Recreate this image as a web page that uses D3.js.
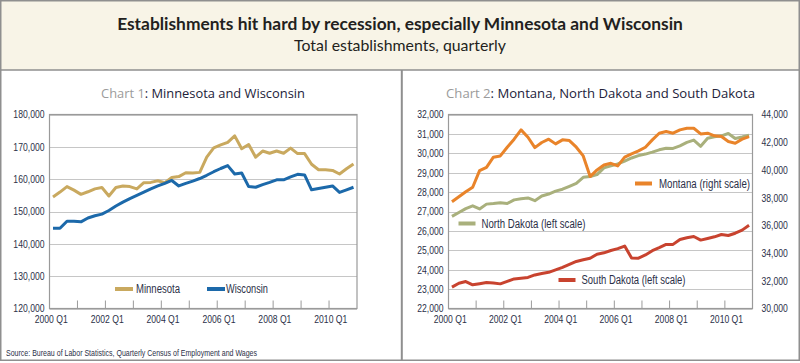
<!DOCTYPE html>
<html><head><meta charset="utf-8">
<script src="https://cdn.jsdelivr.net/npm/d3@7"></script>
<style>html,body{margin:0;padding:0;background:#fff;} svg{display:block;}</style>
</head><body>
<svg id="c" width="800" height="363"></svg>
<script>
// ---------------- DATA ----------------
const years = [2000, 2001, 2002, 2003, 2004, 2005, 2006, 2007, 2008, 2009, 2010];
const quarterNames = ["Q1", "Q2", "Q3", "Q4"];
const categories = years.flatMap(y => quarterNames.map(q => y + " " + q));
const xTickLabels = ["2000 Q1", "2002 Q1", "2004 Q1", "2006 Q1", "2008 Q1", "2010 Q1"];

const minnesota = [154500,156000,157700,156600,155300,156100,157000,157400,154800,157400,
  157900,157700,157000,158900,159000,159500,158900,160500,160800,162000,
  161900,162100,166800,169700,170600,171400,173400,169400,170700,166800,
  168700,168000,168700,168000,169600,167900,167900,164600,162900,162900,
  162700,161600,163200,164700];
const wisconsin = [144800,144800,147000,147000,146800,148000,148700,149200,150300,151700,
  152900,154000,155000,156000,157000,157900,158700,159600,157900,158700,
  159400,160200,161200,162300,163300,164200,161600,161900,157700,157500,
  158300,159000,159800,159800,160700,161500,161300,156700,157100,157500,
  157900,155900,156700,157500];
const montana = [37700,38070,38430,38750,39950,40190,40920,41010,41640,42220,
  42890,42360,41610,41980,42220,41880,42170,42120,41640,41010,
  39520,40000,40360,40480,40290,40920,41160,41370,41640,42170,
  42650,42770,42650,42890,43010,43010,42600,42650,42460,42410,
  42050,41930,42220,42410];
const northDakota = [26750,26950,27150,27290,27130,27380,27410,27450,27410,27600,
  27660,27700,27560,27800,27900,28050,28150,28300,28450,28760,
  28800,28900,29250,29350,29450,29600,29760,29880,29960,30060,
  30180,30260,30250,30380,30560,30680,30360,30780,30850,30900,
  31020,30760,30840,30930];
const southDakota = [23100,23300,23390,23220,23280,23340,23320,23270,23400,23525,
  23560,23600,23730,23800,23864,23990,24120,24270,24424,24510,
  24593,24797,24870,24990,25085,25220,24600,24593,24760,24980,
  25136,25305,25305,25560,25650,25712,25525,25610,25695,25813,
  25763,25880,26040,26288];

const chart1YTicks = [120000,130000,140000,150000,160000,170000,180000];
const chart2LeftTicks = [22000,23000,24000,25000,26000,27000,28000,29000,30000,31000,32000];
const chart2RightTicks = [30000,32000,34000,36000,38000,40000,42000,44000];

// ---------------- STYLE ----------------
const AX = "'Liberation Sans', Arial, sans-serif";
const NARROW = 0.82;
const TXT = "#2b3048";
const BORDER = "#8f8f8f";
const GRID = "#c6c6c6";
const C = { mn: "#c9a95f", wi: "#1c69aa", mt: "#e9842a", nd: "#a9b07c", sd: "#c8432f" };

const svg = d3.select("#c");
svg.append("rect").attr("width", 800).attr("height", 363).attr("fill", "#fff");
svg.append("rect").attr("x", 1).attr("y", 1).attr("width", 798).attr("height", 69).attr("fill", "#f8f4e7");
svg.append("rect").attr("x", 0.75).attr("y", 0.75).attr("width", 798.5).attr("height", 359.5)
  .attr("fill", "none").attr("stroke", BORDER).attr("stroke-width", 1.5);
svg.append("line").attr("x1", 0).attr("x2", 800).attr("y1", 70).attr("y2", 70)
  .attr("stroke", BORDER).attr("stroke-width", 1.5);
svg.append("line").attr("x1", 401.8).attr("x2", 401.8).attr("y1", 70).attr("y2", 360)
  .attr("stroke", BORDER).attr("stroke-width", 2);

function fit(sel, target) {
  const w = sel.node().getComputedTextLength();
  const fs = parseFloat(sel.attr("font-size"));
  sel.attr("font-size", (fs * target / w).toFixed(2));
}
function condense(sel, factor) {
  sel.each(function () {
    const w = this.getComputedTextLength();
    if (w > 0) d3.select(this).attr("textLength", (w * factor).toFixed(2)).attr("lengthAdjust", "spacingAndGlyphs");
  });
}
function squeezeTo(sel, width) {
  sel.attr("textLength", width).attr("lengthAdjust", "spacingAndGlyphs");
}

// header
const t1 = svg.append("text").attr("x", 400).attr("y", 30).attr("text-anchor", "middle")
  .attr("font-family", "Lato, 'Open Sans', sans-serif").attr("font-weight", 700).attr("font-size", 17)
  .attr("fill", "#231f20").text("Establishments hit hard by recession, especially Minnesota and Wisconsin");
fit(t1, 566);
const t2 = svg.append("text").attr("x", 400).attr("y", 51).attr("text-anchor", "middle")
  .attr("font-family", "Lato, 'Open Sans', sans-serif").attr("font-size", 15)
  .attr("fill", "#231f20").text("Total establishments, quarterly");
fit(t2, 212);

// source
const src = svg.append("text").attr("x", 6).attr("y", 356).attr("font-family", AX).attr("font-size", 9.5)
  .attr("fill", TXT).text("Source: Bureau of Labor Statistics, Quarterly Census of Employment and Wages");
squeezeTo(src, 251);

function chartTitle(cx, num, rest, width) {
  const t = svg.append("text").attr("x", cx).attr("y", 97.5).attr("text-anchor", "middle")
    .attr("font-family", "'Open Sans', 'Noto Sans', sans-serif").attr("font-size", 13);
  t.append("tspan").attr("fill", "#9b9b9b").text(num);
  t.append("tspan").attr("fill", "#22223a").text(rest);
  fit(t, width);
}

function panel(cfg) {
  const { left, right, top, bottom } = cfg;
  const x = d3.scaleBand().domain(categories).range([left, right]);
  const bw = x.bandwidth();
  const px = c => x(c) + bw / 2;
  const g = svg.append("g");
  const y = cfg.y;
  // gridlines
  g.selectAll(".grid").data(cfg.yTicks).join("line")
    .attr("x1", left).attr("x2", right)
    .attr("y1", d => Math.round(y(d)) + 0.5).attr("y2", d => Math.round(y(d)) + 0.5)
    .attr("stroke", GRID).attr("stroke-width", 1);
  // y axis labels
  const ax = d3.axisLeft(y).tickValues(cfg.yTicks).tickSize(0).tickPadding(5).tickFormat(d3.format(","));
  const gl = g.append("g").attr("transform", `translate(${left},0)`).call(ax);
  gl.select(".domain").remove();
  gl.selectAll("text").attr("font-family", AX).attr("font-size", 10.5).attr("fill", TXT).call(condense, NARROW);
  if (cfg.yR) {
    const axR = d3.axisRight(cfg.yR).tickValues(cfg.yRTicks).tickSize(0).tickPadding(9).tickFormat(d3.format(","));
    const gr = g.append("g").attr("transform", `translate(${right},0)`).call(axR);
    gr.select(".domain").remove();
    gr.selectAll("text").attr("font-family", AX).attr("font-size", 10.5).attr("fill", TXT).call(condense, NARROW);
  }
  // x axis
  const yearStarts = categories.filter(c => c.endsWith("Q1"));
  const axB = d3.axisBottom(x).tickValues(yearStarts).tickSize(-8).tickPadding(7)
    .tickFormat(d => xTickLabels.includes(d) ? d : "");
  const gx = g.append("g").attr("transform", `translate(0,${bottom})`).call(axB);
  gx.select(".domain").remove();
  gx.selectAll(".tick line").attr("transform", `translate(${-bw / 2},0)`).attr("stroke", "#9a9a9a");
  gx.selectAll(".tick text").attr("transform", `translate(${-bw / 4},0)`)
    .attr("font-family", AX).attr("font-size", 10.5).attr("fill", TXT).call(condense, NARROW);
  // frame
  g.append("rect").attr("x", left).attr("y", top).attr("width", right - left).attr("height", bottom - top)
    .attr("fill", "none").attr("stroke", "#9a9a9a").attr("stroke-width", 1.2);
  // series
  cfg.series.forEach(s => {
    const line = d3.line().x((d, i) => px(categories[i])).y(d => s.scale(d));
    g.append("path").datum(s.values).attr("d", line).attr("fill", "none")
      .attr("stroke", s.color).attr("stroke-width", 3).attr("stroke-linejoin", "round");
  });
  // legends
  cfg.legend.forEach(l => {
    g.append("rect").attr("x", l.x).attr("y", l.y - 2).attr("width", l.w).attr("height", 4).attr("fill", l.color);
    g.append("text").attr("x", l.x + l.w + l.gap).attr("y", l.y + 4.2).attr("font-family", AX)
      .attr("font-size", 12).attr("fill", TXT).text(l.label).call(squeezeTo, l.tw);
  });
}

// Chart 1
chartTitle(203, "Chart 1", ": Minnesota and Wisconsin", 204);
const y1 = d3.scaleLinear().domain([120000, 180000]).range([308.5, 114.5]);
panel({
  left: 49.5, right: 357, top: 114.5, bottom: 308.5, y: y1, yTicks: chart1YTicks,
  series: [
    { values: minnesota, color: C.mn, scale: y1 },
    { values: wisconsin, color: C.wi, scale: y1 }
  ],
  legend: [
    { x: 115, y: 289, w: 18, gap: 3, tw: 44, color: C.mn, label: "Minnesota" },
    { x: 207, y: 289, w: 18, gap: 1, tw: 42, color: C.wi, label: "Wisconsin" }
  ]
});

// Chart 2
chartTitle(600.5, "Chart 2", ": Montana, North Dakota and South Dakota", 309);
const y2L = d3.scaleLinear().domain([22000, 32000]).range([308.5, 114.5]);
const y2R = d3.scaleLinear().domain([30000, 44000]).range([308.5, 114.5]);
panel({
  left: 448.5, right: 752.5, top: 114.5, bottom: 308.5, y: y2L, yTicks: chart2LeftTicks,
  yR: y2R, yRTicks: chart2RightTicks,
  series: [
    { values: northDakota, color: C.nd, scale: y2L },
    { values: southDakota, color: C.sd, scale: y2L },
    { values: montana, color: C.mt, scale: y2R }
  ],
  legend: [
    { x: 635, y: 183.5, w: 17, gap: 7, tw: 91, color: C.mt, label: "Montana (right scale)" },
    { x: 458.5, y: 223.5, w: 17, gap: 6, tw: 104, color: C.nd, label: "North Dakota (left scale)" },
    { x: 558.5, y: 280, w: 17, gap: 6, tw: 104, color: C.sd, label: "South Dakota (left scale)" }
  ]
});
</script>
</body></html>
